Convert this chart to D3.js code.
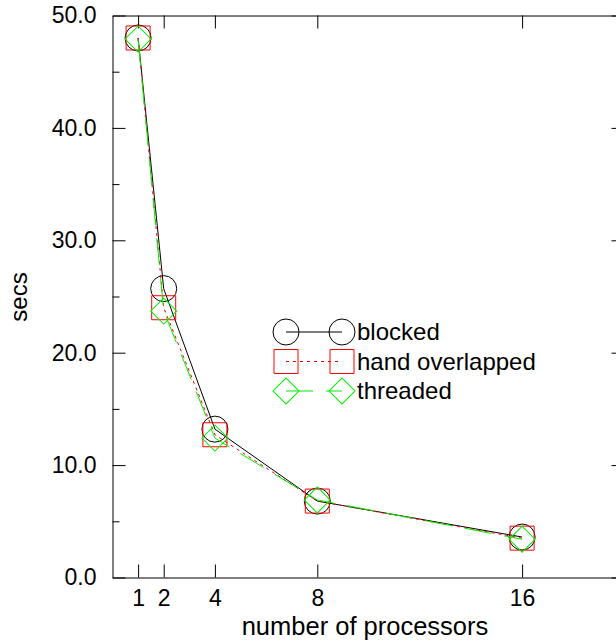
<!DOCTYPE html>
<html>
<head>
<meta charset="utf-8">
<script src="https://cdn.jsdelivr.net/npm/d3@7"></script>
<style>
body { margin: 0; background: #fff; }
text { font-family: "Liberation Sans", Arial, sans-serif; fill: #000; }
</style>
</head>
<body>
<div id="chart"></div>
<script>
// number of processors
var procs = [1, 2, 4, 8, 16];

// secs for each run
var blocked = [48.0, 25.7, 13.2, 6.8, 3.6];
var handOverlapped = [48.0, 24.0, 12.7, 6.8, 3.5];
var threaded = [47.9, 23.7, 12.4, 6.9, 3.4];

var seriesNames = ['blocked', 'hand overlapped', 'threaded'];
var yTicks = [0, 10, 20, 30, 40, 50];
var yMinorTicks = [5, 15, 25, 35, 45];

var width = 616, height = 642;

var svg = d3.select('#chart')
	.append('svg')
	.attr('width', width)
	.attr('height', height);

var x = d3.scaleLinear().domain([0, 20]).range([112.5, 624.5]);
var y = d3.scaleLinear().domain([0, 50]).range([577.5, 15.5]);

function styleAxis(g, fontSize) {
	g.attr('font-family', null).attr('font-size', null);
	g.selectAll('path, line').attr('stroke', '#000').attr('stroke-width', 1);
	g.selectAll('text').style('font-size', fontSize + 'px');
}

// left axis, major + minor ticks (inward)
svg.append('g')
	.attr('transform', 'translate(' + x(0) + ',0)')
	.call(d3.axisLeft(y).tickValues(yTicks).tickSize(-13).tickSizeOuter(0)
		.tickPadding(16).tickFormat(d3.format('.1f')))
	.call(styleAxis, 23);

svg.append('g')
	.attr('transform', 'translate(' + x(0) + ',0)')
	.call(d3.axisLeft(y).tickValues(yMinorTicks).tickSize(-7).tickSizeOuter(0).tickFormat(''))
	.call(styleAxis, 23)
	.select('.domain').remove();

// right axis
svg.append('g')
	.attr('transform', 'translate(' + x(20) + ',0)')
	.call(d3.axisRight(y).tickValues(yTicks).tickSize(-13).tickSizeOuter(0).tickFormat(''))
	.call(styleAxis, 23);

// bottom axis
svg.append('g')
	.attr('transform', 'translate(0,' + y(0) + ')')
	.call(d3.axisBottom(x).tickValues(procs).tickSize(-13).tickSizeOuter(0)
		.tickPadding(12).tickFormat(d3.format('d')))
	.call(styleAxis, 23);

// top axis
svg.append('g')
	.attr('transform', 'translate(0,' + y(50) + ')')
	.call(d3.axisTop(x).tickValues(procs).tickSize(-13).tickSizeOuter(0).tickFormat(''))
	.call(styleAxis, 23);

// axis titles
svg.append('text')
	.attr('x', 365)
	.attr('y', 635)
	.attr('text-anchor', 'middle')
	.style('font-size', '25.5px')
	.text('number of processors');

svg.append('text')
	.attr('transform', 'translate(27,297) rotate(-90)')
	.attr('text-anchor', 'middle')
	.style('font-size', '24px')
	.text('secs');

// series
var circleSym = d3.symbol().type(d3.symbolCircle).size(Math.PI * 13 * 13);
var squareSym = d3.symbol().type(d3.symbolSquare).size(24 * 24);
var diamondSym = d3.symbol().type(d3.symbolSquare).size(18.4 * 18.4);

var series = [
	{ name: seriesNames[0], values: blocked, color: '#000', dash: null, sym: circleSym, rot: 0 },
	{ name: seriesNames[1], values: handOverlapped, color: '#ff0000', dash: '3,4', sym: squareSym, rot: 0 },
	{ name: seriesNames[2], values: threaded, color: '#00f000', dash: '27,13', sym: diamondSym, rot: 45 }
];

var line = d3.line()
	.x(function (d) { return x(d.p); })
	.y(function (d) { return y(d.v); });

series.forEach(function (s) {
	var pts = procs.map(function (p, i) { return { p: p, v: s.values[i] }; });

	svg.append('path')
		.datum(pts)
		.attr('d', line)
		.attr('fill', 'none')
		.attr('stroke', s.color)
		.attr('stroke-width', 1)
		.attr('stroke-dasharray', s.dash);

	svg.selectAll(null)
		.data(pts)
		.enter()
		.append('path')
		.attr('d', s.sym)
		.attr('transform', function (d) {
			return 'translate(' + x(d.p) + ',' + y(d.v) + ') rotate(' + s.rot + ')';
		})
		.attr('fill', 'none')
		.attr('stroke', s.color)
		.attr('stroke-width', 1);
});

// legend
var legendY = d3.scalePoint().domain(seriesNames).range([332, 391]);
var legX1 = 286, legX2 = 342;

series.forEach(function (s) {
	var ly = legendY(s.name);
	var g = svg.append('g');

	g.append('line')
		.attr('x1', legX1).attr('y1', ly)
		.attr('x2', legX2).attr('y2', ly)
		.attr('stroke', s.color)
		.attr('stroke-dasharray', s.dash);

	[legX1, legX2].forEach(function (lx) {
		g.append('path')
			.attr('d', s.sym)
			.attr('transform', 'translate(' + lx + ',' + ly + ') rotate(' + s.rot + ')')
			.attr('fill', 'none')
			.attr('stroke', s.color);
	});

	g.append('text')
		.attr('x', 357)
		.attr('y', ly)
		.attr('dy', '0.35em')
		.style('font-size', '24px')
		.text(s.name);
});
</script>
</body>
</html>
